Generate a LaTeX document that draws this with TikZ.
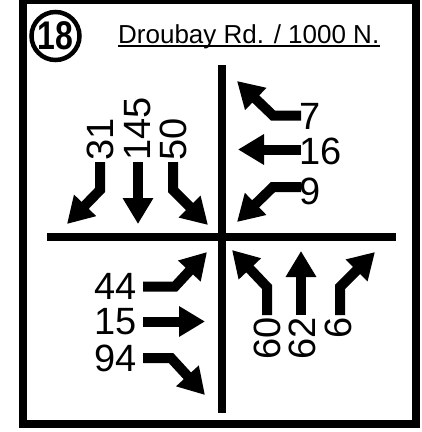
\documentclass[tikz,border=0pt]{standalone}
\usepackage{fontspec}
\setmainfont{Liberation Sans}
\usepackage{graphicx}
\usetikzlibrary{arrows.meta,positioning}
\newcommand{\volfont}{\fontsize{38}{38}\selectfont}
\tikzset{
  move/.style={line width=10pt,line join=miter,-{Triangle[width=29pt,length=26pt]}},
  vol/.style={font=\volfont,inner sep=0pt},
  road/.style={line width=8pt},
}

\begin{document}
\begin{tikzpicture}[x=1pt,y=1pt]
\useasboundingbox (0,0) rectangle (422,-432);
\fill[white] (0,0) rectangle (422,-432);
% frame and the two roads
\draw[road] (23,0) rectangle (416,-424);
\draw[road] (222,-65) -- (222,-413);
\draw[road] (47,-236.5) -- (396,-236.5);
% heading
\node[circle,draw,line width=4.5pt,minimum size=48pt,inner sep=0pt] (num) at (55.5,-36)
    {\fontsize{40}{40}\selectfont\bfseries\scalebox{0.8}[1]{18}};
\node[anchor=base west,inner sep=0pt,font=\fontsize{26}{26}\selectfont] (title) at (118,-43) {Droubay Rd. / 1000 N.};
\draw[line width=1.5pt] ([yshift=-3pt]title.base west) -- ([yshift=-3pt]title.base east);
% southbound
\draw[move] (100,-162) -- (100,-190) -- (67,-224);
\draw[move] (138,-162) -- (138,-224);
\draw[move] (173,-162) -- (173,-190) -- (208,-225);
\foreach \x/\v/\n in {100/31/sbL,138/145/sbT,173/50/sbR}{\node[vol,rotate=90,anchor=west] (\n) at (\x,-161) {\v};}
% westbound
\draw[move] (301,-115.5) -- (273,-115.5) -- (237,-81);
\draw[move] (301,-149.5) -- (238,-149.5);
\draw[move] (301,-187) -- (273,-187) -- (237,-222);
\foreach \y/\v/\n in {116.5/7/wbR,151.5/16/wbT,191.5/9/wbL}{\node[vol,anchor=west] (\n) at (299.5,-\y) {\v};}
% eastbound
\draw[move] (143,-286.5) -- (175,-286.5) -- (207,-252);
\draw[move] (143,-321.5) -- (205,-321.5);
\draw[move] (143,-358) -- (171,-358) -- (205,-395);
\foreach \y/\v/\n in {286.5/44/ebL,321.5/15/ebT,358.5/94/ebR}{\node[vol,anchor=east] (\n) at (136.5,-\y) {\v};}
% northbound
\draw[move] (267,-315) -- (267,-287) -- (232,-250);
\draw[move] (301,-315) -- (301,-251);
\draw[move] (340,-315) -- (340,-287) -- (375,-252);
\foreach \x/\v/\n in {267.5/60/nbL,302.5/62/nbT,338.5/6/nbR}{\node[vol,rotate=90,anchor=east] (\n) at (\x,-317) {\v};}
\end{tikzpicture}
\end{document}
